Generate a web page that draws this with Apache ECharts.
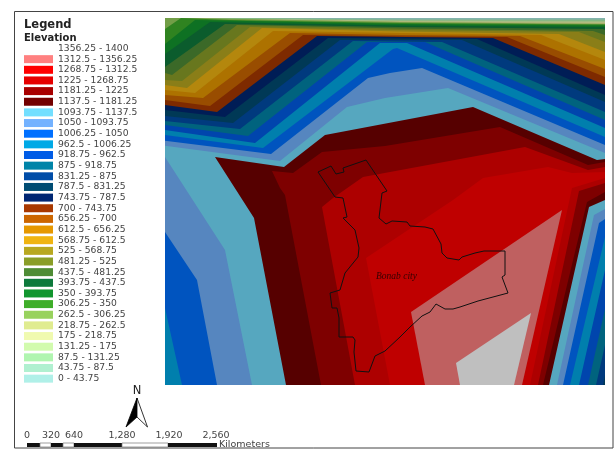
<!DOCTYPE html>
<html><head><meta charset="utf-8">
<style>html,body{margin:0;padding:0;background:#fff}#c{width:616px;height:450px}</style>
<script src="https://cdn.jsdelivr.net/npm/echarts@6/dist/echarts.min.js"></script>
</head><body><div id="c"></div>
<script>
// Elevation class labels, low to high
const bandLabels = ["0 - 43.75","43.75 - 87.5","87.5 - 131.25","131.25 - 175","175 - 218.75","218.75 - 262.5","262.5 - 306.25","306.25 - 350","350 - 393.75","393.75 - 437.5","437.5 - 481.25","481.25 - 525","525 - 568.75","568.75 - 612.5","612.5 - 656.25","656.25 - 700","700 - 743.75","743.75 - 787.5","787.5 - 831.25","831.25 - 875","875 - 918.75","918.75 - 962.5","962.5 - 1006.25","1006.25 - 1050","1050 - 1093.75","1093.75 - 1137.5","1137.5 - 1181.25","1181.25 - 1225","1225 - 1268.75","1268.75 - 1312.5","1312.5 - 1356.25","1356.25 - 1400"];
const bandColors = ["#b0f0e8","#b0f0d0","#b0f5b0","#d2fbae","#f0fab0","#e0ec90","#98d25e","#3fae2a","#12962f","#0e7a3c","#4f8c35","#8a9e28","#b8a820","#f0b411","#e69800","#cc6600","#a83800","#002673","#004c73","#004da8","#0084a8","#005ce6","#00a9e6","#0070ff","#73b2ff","#73dfff","#730000","#a80000","#e60000","#ff0000","#ff8080","#ffffff"];
const layerShade = 0.75;

// Contour rings in map units, one per class lower bound
const c0    = [[165,18],[605,18],[605,385],[165,385]];
const c43   = [[165,18],[230,18],[400,19],[605,19],[605,385],[165,385]];
const c87   = [[165,18],[250,18],[400,20],[605,20],[605,385],[165,385]];
const c131  = [[165,18],[240,19],[400,20.5],[605,21],[605,385],[165,385]];
const c175  = [[165,18],[230,19],[400,21],[605,22],[605,385],[165,385]];
const c218  = [[165,18],[215,19],[400,21.5],[605,23],[605,385],[165,385]];
const c262  = [[165,18],[190,18],[400,22],[605,24],[605,385],[165,385]];
const c306  = [[165,29],[181,18],[230,20],[400,23],[605,24.5],[605,385],[165,385]];
const c350  = [[165,44],[195,20],[400,24],[605,25.5],[605,385],[165,385]];
const c393  = [[165,54],[210,22],[400,25.5],[605,27],[605,385],[165,385]];
const c437  = [[165,67],[225,24],[400,27],[603,29],[605,30],[605,385],[165,385]];
const c481  = [[165,73],[172,75],[237,25],[400,28.5],[593,31],[605,35],[605,385],[165,385]];
const c525  = [[165,80],[182,81],[250,27],[400,30],[579,32],[605,42],[605,385],[165,385]];
const c568  = [[165,85],[187,88],[262,28],[400,31.5],[559,34],[605,52],[605,385],[165,385]];
const c612  = [[165,90],[195,93],[273,31],[400,33],[541,35],[605,60],[605,385],[165,385]];
const c656  = [[165,95],[203,98],[290,33],[400,35],[520,36],[605,69],[605,385],[165,385]];
const c700  = [[165,100],[210,106],[303,35],[400,36.5],[507,37],[605,77],[605,385],[165,385]];
const c743  = [[165,105],[217,112],[317,36],[493,38],[605,85],[605,385],[165,385]];
const c787  = [[165,110],[225,117],[328,38],[477,39],[605,95],[605,385],[165,385]];
const c831  = [[165,116],[233,123],[340,40],[462,40],[605,102],[605,375],[603,385],[165,385]];
const c875  = [[165,121],[240,129],[353,41],[442,42],[605,112],[605,345],[596,385],[165,385]];
const c918  = [[165,125],[248,136],[367,42],[425,42],[605,120],[605,309],[588,385],[165,385]];
const c962  = [[165,130],[255,143],[380,43],[407,43],[605,128],[605,270],[579,385],[165,385]];
const c1006 = [[165,135],[263,148],[393,49],[397,48],[605,137],[605,237],[570,385],[182,385],[165,308]];
const c1050 = [[165,140.7],[271,154],[368,78],[390,73],[422,68],[605,145],[605,219],[599,223],[563,385],[217,385],[197,280],[165,232]];
const c1093 = [[165,145.7],[280,161],[347,107],[385,98],[448,88],[605,153],[605,209],[594,215],[557,385],[252,385],[225,250],[165,157]];
const c1137 = [[215,157],[284,167],[325,135],[473,107],[597,160],[605,159],[605,200],[589,207],[549,385],[286,385],[254,218]];
const c1181 = [[272,171],[280,188],[285,195],[321,385],[543,385],[587,202],[605,192],[605,162],[588,165],[500,127],[385,146],[322,152],[293,173]];
const c1225 = [[322,207],[333,198],[363,177],[525,147],[588,170],[605,167],[605,183],[579,191],[538,385],[355,385]];
const c1268 = [[366,258],[453,200],[483,178],[548,167],[572,173],[605,172],[605,178],[572,188],[530,385],[390,385]];
const c1312 = [[562,210],[522,385],[425,385],[411,312]];
const c1356 = [[531,313],[514,385],[460,385],[456,363]];
const contours = [c0,c43,c87,c131,c175,c218,c262,c306,c350,c393,c437,c481,c525,c568,c612,c656,c700,c743,c787,c831,c875,c918,c962,c1006,c1050,c1093,c1137,c1181,c1225,c1268,c1312,c1356];

// City boundary
const cityBoundary = [[318,172],[331,166],[336,174],[344,172],[343,168],[366,160],[387,191],[382,193],[379,218],[386,224],[392,221],[407,222],[410,226],[425,227],[433,229],[441,244],[442,253],[447,258],[459,260],[462,257],[475,253],[484,251],[505,251],[505,275],[502,277],[508,293],[478,301],[460,307],[453,309],[445,309],[436,304],[430,312],[422,316],[410,327],[400,337],[385,351],[375,356],[369,372],[356,371],[354,352],[355,340],[353,337],[339,337],[339,318],[337,308],[332,308],[330,293],[340,290],[345,273],[358,257],[359,248],[355,230],[343,218],[347,217],[343,198],[335,197],[318,172]];

const scaleTicks = ["0","320","640","1,280","1,920","2,560"];
const scaleUnit = "Kilometers";
const placeName = "Bonab city";

function shade(hex,k){
  const n=parseInt(hex.slice(1),16);
  const f=v=>Math.round(v*k);
  return `rgb(${f(n>>16&255)},${f(n>>8&255)},${f(n&255)})`;
}
const chart = echarts.init(document.getElementById('c'),null,{renderer:'canvas'});
const bandSeries = contours.map((ring,i)=>({
  type:'custom',name:bandLabels[i],coordinateSystem:'cartesian2d',silent:true,z:2,
  itemStyle:{color:bandColors[i]},
  data:ring,
  renderItem:(p,api)=>{
    if(p.dataIndex!==0) return null;
    return {type:'polygon',shape:{points:ring.map(pt=>api.coord(pt))},
      style:{fill:shade(bandColors[i],layerShade),stroke:null}};
  }
}));
const T=(text,x,y,font,extra)=>({type:'text',x,y,z:20,style:Object.assign({text,font,fill:'#333',verticalAlign:'middle',align:'left'},extra||{})});
const scaleX=[27,51,74,122,169,216];
const barStops=[27,40,51,63,74,122,168,217];
const barRects=[];
for(let i=0;i<barStops.length-1;i++){
  barRects.push({type:'rect',z:20,shape:{x:barStops[i],y:443,width:barStops[i+1]-barStops[i],height:4},
    style:{fill:i%2?'#fff':'#111',stroke:i%2?'#777':null,lineWidth:i%2?0.7:0}});
}
chart.setOption({
  animation:false,
  backgroundColor:'#fff',
  grid:{left:165,top:18,width:440,height:367,containLabel:false,show:false},
  xAxis:{type:'value',min:165,max:605,show:false},
  yAxis:{type:'value',min:18,max:385,inverse:true,show:false},
  legend:{
    orient:'vertical',left:24,top:44,selectedMode:false,itemWidth:29,itemHeight:8,itemGap:1.65,
    padding:0,icon:'rect',
    textStyle:{fontFamily:'DejaVu Sans',fontSize:9.2,color:'#444',lineHeight:8,height:8},
    data:bandLabels.map((name,i)=>({name,icon:'rect',itemStyle:{color:bandColors[i],borderWidth:0}})).reverse()
  },
  series:[...bandSeries,
    {type:'line',name:'City',data:cityBoundary,showSymbol:false,symbol:'none',silent:true,z:5,
     lineStyle:{color:'#111',width:1},itemStyle:{color:'#111'}}
  ],
  graphic:[
    {type:'rect',z:19,shape:{x:14.5,y:11.5,width:598.5,height:436.5},style:{fill:null,stroke:'#444',lineWidth:1}},
    T('Legend',24,25,'bold 11.5px "DejaVu Sans"',{fill:'#222'}),
    T('Elevation',24,38,'bold 10px "DejaVu Sans"',{fill:'#222'}),
    T(placeName,376,276.5,'italic 9.5px "Liberation Serif"',{fill:'#300'}),
    T('N',137,391,'11.5px "DejaVu Sans"',{fill:'#222',align:'center'}),
    {type:'polygon',z:20,shape:{points:[[137,398],[126,427],[137,417]]},style:{fill:'#000',stroke:'#000',lineWidth:0.8}},
    {type:'polygon',z:20,shape:{points:[[137,398],[147.5,427],[137,417]]},style:{fill:'#fff',stroke:'#000',lineWidth:0.8}},
    ...scaleTicks.map((t,i)=>T(t,scaleX[i],436,'9.5px "DejaVu Sans"',{align:'center',fill:'#444'})),
    ...barRects,
    T(scaleUnit,219,444.5,'9.5px "DejaVu Sans"',{fill:'#444'})
  ]
});
</script></body></html>
